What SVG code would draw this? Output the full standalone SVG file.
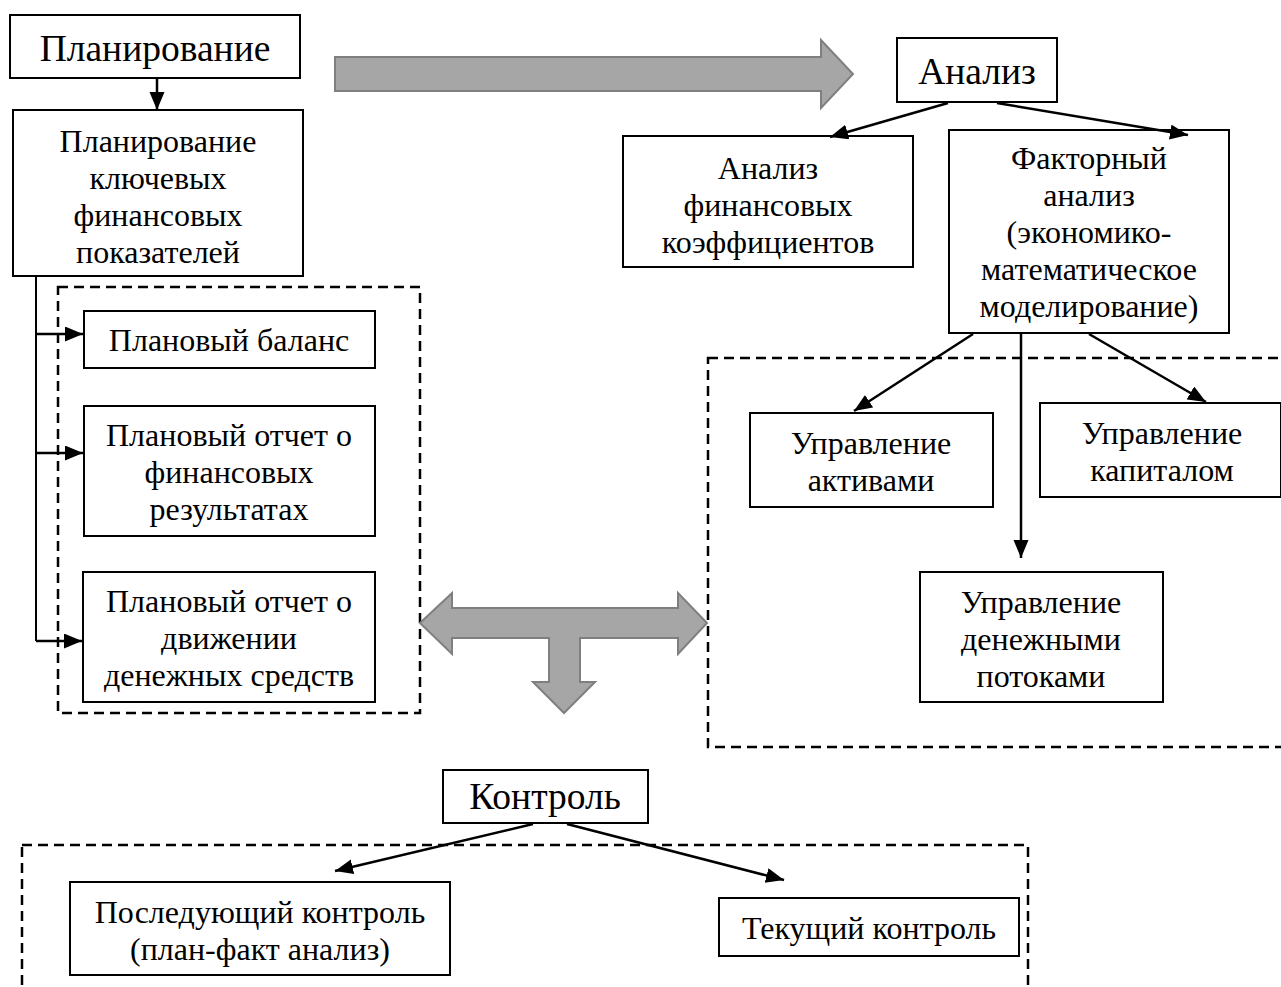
<svg xmlns="http://www.w3.org/2000/svg" width="1281" height="987" viewBox="0 0 1281 987">
<style>
  .box{fill:#fff;stroke:#000;stroke-width:2}
  .dash{fill:none;stroke:#000;stroke-width:2.5;stroke-dasharray:10 6}
  .t{font-family:"Liberation Serif","Times New Roman",serif;font-size:32px;fill:#000;text-anchor:middle}
  .tt{font-family:"Liberation Serif","Times New Roman",serif;font-size:37.5px;fill:#000;text-anchor:middle}
  .ln{fill:none;stroke:#000;stroke-width:2.5;marker-end:url(#ah)}
  .ln0{fill:none;stroke:#000;stroke-width:2}
  .big{fill:#a6a6a6;stroke:#7f7f7f;stroke-width:2}
</style>
<defs>
  <marker id="ah" markerUnits="userSpaceOnUse" markerWidth="20" markerHeight="16" refX="18" refY="7.5" orient="auto">
    <path d="M0,0 L18,7.5 L0,15 Z" fill="#000"/>
  </marker>
</defs>
<rect width="1281" height="987" fill="#fff"/>

<g id="groups">
  <rect class="dash" x="58" y="287" width="362" height="426"/>
  <rect class="dash" x="708" y="358" width="590" height="389"/>
  <rect class="dash" x="22" y="845" width="1006" height="160"/>
</g>

<g id="big-arrows">
  <path class="big" d="M335,57 L821,57 L821,40 L853,74 L821,108 L821,91 L335,91 Z"/>
  <path class="big" d="M420,623 L452,593 L452,608 L678,608 L678,593 L707,623 L678,654 L678,638 L580,638 L580,682 L595,682 L564,713 L533,682 L549,682 L549,638 L452,638 L452,654 Z"/>
</g>

<g id="n-plan">
  <rect class="box" x="10" y="15" width="290" height="63"/>
  <text class="tt" x="155" y="61">Планирование</text>
</g>
<g id="n-plan-key">
  <rect class="box" x="13" y="110" width="290" height="166"/>
  <text class="t" x="158" y="152">Планирование</text>
  <text class="t" x="158" y="189">ключевых</text>
  <text class="t" x="158" y="226">финансовых</text>
  <text class="t" x="158" y="263">показателей</text>
</g>
<g id="n-balance">
  <rect class="box" x="84" y="311" width="291" height="57"/>
  <text class="t" x="229" y="351">Плановый баланс</text>
</g>
<g id="n-pnl">
  <rect class="box" x="84" y="406" width="291" height="130"/>
  <text class="t" x="229" y="446">Плановый отчет о</text>
  <text class="t" x="229" y="483">финансовых</text>
  <text class="t" x="229" y="520">результатах</text>
</g>
<g id="n-cf">
  <rect class="box" x="83" y="572" width="292" height="130"/>
  <text class="t" x="229" y="612">Плановый отчет о</text>
  <text class="t" x="229" y="649">движении</text>
  <text class="t" x="229" y="686">денежных средств</text>
</g>

<g id="n-analysis">
  <rect class="box" x="897" y="38" width="160" height="64"/>
  <text class="tt" x="977" y="84">Анализ</text>
</g>
<g id="n-ratios">
  <rect class="box" x="623" y="136" width="290" height="131"/>
  <text class="t" x="768" y="179">Анализ</text>
  <text class="t" x="768" y="216">финансовых</text>
  <text class="t" x="768" y="253">коэффициентов</text>
</g>
<g id="n-factor">
  <rect class="box" x="949" y="130" width="280" height="203"/>
  <text class="t" x="1089" y="169">Факторный</text>
  <text class="t" x="1089" y="206">анализ</text>
  <text class="t" x="1089" y="243">(экономико-</text>
  <text class="t" x="1089" y="280">математическое</text>
  <text class="t" x="1089" y="317">моделирование)</text>
</g>
<g id="n-assets">
  <rect class="box" x="750" y="413" width="243" height="94"/>
  <text class="t" x="871" y="454">Управление</text>
  <text class="t" x="871" y="491">активами</text>
</g>
<g id="n-capital">
  <rect class="box" x="1040" y="403" width="241" height="94"/>
  <text class="t" x="1162" y="444">Управление</text>
  <text class="t" x="1162" y="481">капиталом</text>
</g>
<g id="n-cashflow">
  <rect class="box" x="920" y="572" width="243" height="130"/>
  <text class="t" x="1041" y="613">Управление</text>
  <text class="t" x="1041" y="650">денежными</text>
  <text class="t" x="1041" y="687">потоками</text>
</g>

<g id="n-control">
  <rect class="box" x="443" y="770" width="205" height="53"/>
  <text class="tt" x="545" y="809">Контроль</text>
</g>
<g id="n-post">
  <rect class="box" x="70" y="882" width="380" height="93"/>
  <text class="t" x="260" y="923">Последующий контроль</text>
  <text class="t" x="260" y="960">(план-факт анализ)</text>
</g>
<g id="n-current">
  <rect class="box" x="719" y="898" width="300" height="58"/>
  <text class="t" x="869" y="939">Текущий контроль</text>
</g>

<g id="connectors">
  <line class="ln" x1="157" y1="78" x2="157" y2="110"/>
  <path class="ln0" d="M36,276 L36,641"/>
  <line class="ln" x1="36" y1="334" x2="83" y2="334"/>
  <line class="ln" x1="36" y1="453" x2="83" y2="453"/>
  <line class="ln" x1="36" y1="641" x2="82" y2="641"/>
  <line class="ln" x1="948" y1="103" x2="830" y2="137"/>
  <line class="ln" x1="997" y1="103" x2="1188" y2="135"/>
  <line class="ln" x1="973" y1="334" x2="854" y2="411"/>
  <line class="ln" x1="1021" y1="334" x2="1021" y2="558"/>
  <line class="ln" x1="1089" y1="334" x2="1206" y2="402"/>
  <line class="ln" x1="533" y1="824" x2="335" y2="871"/>
  <line class="ln" x1="567" y1="824" x2="784" y2="880"/>
</g>
</svg>
